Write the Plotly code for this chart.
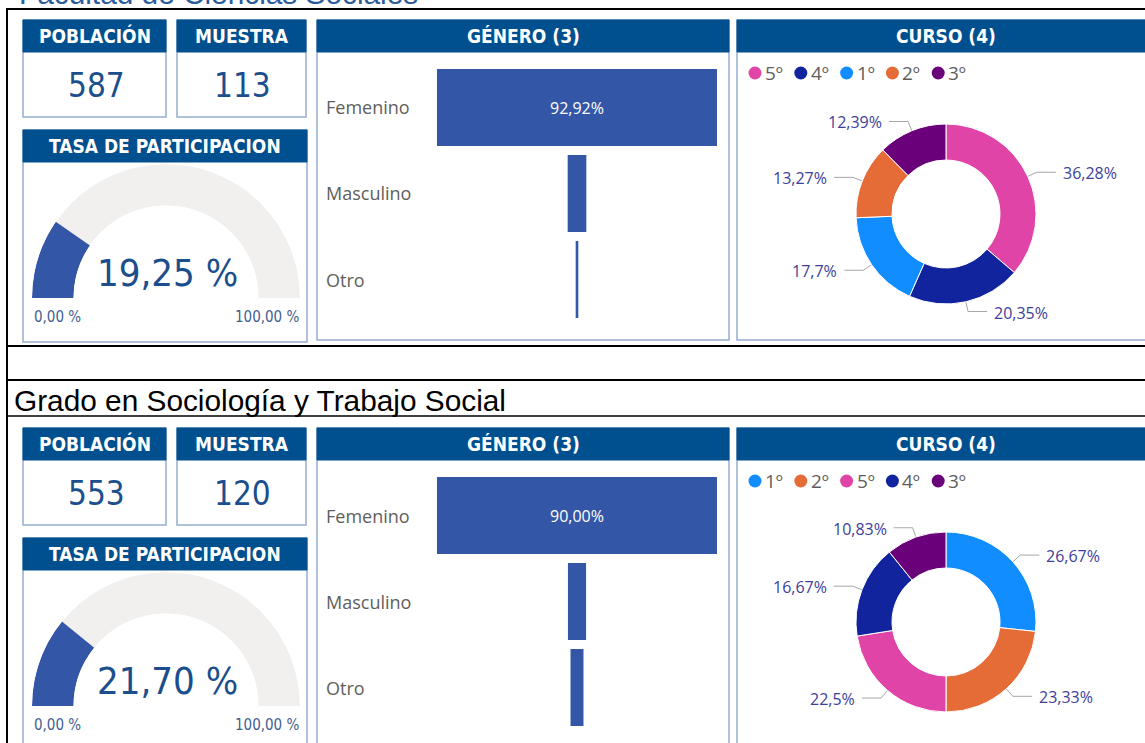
import math
import plotly.graph_objects as go

W, H = 1145, 743

# ---------------- data ----------------
section_titles = ["Facultad de Ciencias Sociales", "Grado en Sociología y Trabajo Social"]
poblacion = [587, 553]
muestra = [113, 120]
gauge_range = [0, 100]

genero_categorias = ["Femenino", "Masculino", "Otro"]
genero_facultad = [105, 7, 1]
genero_grado = [108, 7, 5]

curso_facultad_labels = ["5º", "4º", "1º", "2º", "3º"]
curso_facultad_values = [41, 23, 20, 15, 14]
curso_grado_labels = ["1º", "2º", "5º", "4º", "3º"]
curso_grado_values = [32, 28, 27, 20, 13]

card_titles = ["POBLACIÓN", "MUESTRA", "TASA DE PARTICIPACION", "GÉNERO (3)", "CURSO (4)"]

curso_colores = {"1º": "#118DFF", "2º": "#E66C37", "3º": "#6B007B",
                 "4º": "#12239E", "5º": "#E044A7"}

# ---------------- style ----------------
HEADER = "#00508F"
BORDER = "#97AFCF"
BAR_BLUE = "#3456A6"
GAUGE_BG = "#F1F0EF"
NUM_BLUE = "#1B4E8C"
GAUGE_TXT = "#1B4E8C"
GAUGE_SMALL = "#3F6190"
LABEL_GRAY = "#605E5C"
DONUT_LABEL = "#3E3E9B"
LEADER = "#A6A6A6"
HEAD_FONT = "'DejaVu Sans Condensed', 'Roboto Condensed', 'Liberation Sans Narrow', sans-serif"
UI_FONT = "'Segoe UI', 'Open Sans', 'Noto Sans', sans-serif"
TITLE_FONT = "Arial, 'Liberation Sans', sans-serif"
DY = 408


def fx(x):
    return x / W


def fy(y):
    return 1 - y / H


def es_num(v, dec=2, strip=False):
    s = f"{v:.{dec}f}"
    if strip and "." in s:
        s = s.rstrip("0").rstrip(".")
    return s.replace(".", ",")


fig = go.Figure()
shapes = []
annotations = []


def line(x0, y0, x1, y1, w):
    shapes.append(dict(type="line", xref="x", yref="y", x0=x0, y0=y0, x1=x1, y1=y1,
                       line=dict(color="black", width=w), layer="above"))


def card(x0, y0, x1, y1, title):
    shapes.append(dict(type="rect", xref="x", yref="y", x0=x0, y0=y0, x1=x1, y1=y1,
                       line=dict(color=BORDER, width=1.5), fillcolor="white", layer="below"))
    shapes.append(dict(type="rect", xref="x", yref="y", x0=x0, y0=y0, x1=x1, y1=y0 + 32,
                       line=dict(color=HEADER, width=1), fillcolor=HEADER, layer="below"))
    annotations.append(dict(xref="x", yref="y", x=(x0 + x1) / 2, y=y0 + 15.5, text=title,
                            showarrow=False, xanchor="center", yanchor="middle",
                            font=dict(family=HEAD_FONT, size=19, color="white", weight="bold")))


def text(x, y, t, size, color, family, xanchor="center", yanchor="middle"):
    annotations.append(dict(xref="x", yref="y", x=x, y=y, text=t, showarrow=False,
                            xanchor=xanchor, yanchor=yanchor,
                            font=dict(family=family, size=size, color=color)))


# table lines
line(6, 9, W, 9, 2)
line(7, 9, 7, H, 2)
line(7, 346, W, 346, 2)
line(7, 380, W, 380, 2)
line(7, 416, W, 416, 1.5)

# section titles
annotations.append(dict(xref="x", yref="y", x=17, y=12, text=section_titles[0], showarrow=False,
                        xanchor="left", yanchor="bottom",
                        font=dict(family=TITLE_FONT, size=29.8, color="#2D5C9E")))
annotations.append(dict(xref="x", yref="y", x=12, y=419, text=section_titles[1], showarrow=False,
                        xanchor="left", yanchor="bottom",
                        font=dict(family=TITLE_FONT, size=29.8, color="black")))

genero_sets = [genero_facultad, genero_grado]
curso_sets = [(curso_facultad_labels, curso_facultad_values), (curso_grado_labels, curso_grado_values)]

layout_axes = {}

for s in range(2):
    dy = DY * s
    # cards
    card(23, 20 + dy, 166, 117 + dy, card_titles[0])
    card(177, 20 + dy, 306, 117 + dy, card_titles[1])
    card(23, 130 + dy, 307, 342 + dy, card_titles[2])
    card(317, 20 + dy, 729, 340 + dy, card_titles[3])
    card(737, 20 + dy, 1155, 340 + dy, card_titles[4])

    text(96, 85 + dy, str(poblacion[s]), 33, NUM_BLUE, HEAD_FONT)
    text(242, 85 + dy, str(muestra[s]), 33, NUM_BLUE, HEAD_FONT)

    # ---- gauge (half donut on polar) ----
    rate = muestra[s] / poblacion[s] * 100
    span = gauge_range[1] - gauge_range[0]
    pkey = "polar" if s == 0 else "polar2"
    fig.add_trace(go.Barpolar(r=[1], theta=[90], width=[180], subplot=pkey,
                              marker=dict(color=GAUGE_BG, line=dict(width=0)),
                              hoverinfo="skip", showlegend=False))
    frac = (rate - gauge_range[0]) / span * 180
    fig.add_trace(go.Barpolar(r=[1], theta=[frac / 2], width=[frac], subplot=pkey,
                              marker=dict(color=BAR_BLUE, line=dict(width=0)),
                              hoverinfo="skip", showlegend=False))
    layout_axes[pkey] = dict(
        domain=dict(x=[fx(32), fx(300)], y=[fy(298 + dy), fy(164 + dy)]),
        sector=[0, 180], hole=0.69, bgcolor="rgba(0,0,0,0)",
        radialaxis=dict(visible=False, range=[0, 1]),
        angularaxis=dict(visible=False, rotation=180, direction="clockwise"))
    text(167, 273 + dy, es_num(rate) + " %", 38, GAUGE_TXT, HEAD_FONT)
    text(32, 317 + dy, es_num(gauge_range[0]) + " %", 15, GAUGE_SMALL, HEAD_FONT, xanchor="left")
    text(301, 317 + dy, es_num(gauge_range[1]) + " %", 15, GAUGE_SMALL, HEAD_FONT, xanchor="right")

    # ---- funnel ----
    vals = genero_sets[s]
    xa = "x%d" % (s + 2)
    ya = "y%d" % (s + 2)
    vmax = max(vals)
    fig.add_trace(go.Funnel(
        y=genero_categorias, x=vals, orientation="h", xaxis=xa, yaxis=ya,
        marker=dict(color=BAR_BLUE, line=dict(width=0)),
        connector=dict(visible=False),
        texttemplate="%{percentTotal:.2%}",
        textposition=["inside" if v / vmax > 0.3 else "none" for v in vals],
        insidetextanchor="middle",
        textfont=dict(family=UI_FONT, size=16, color="white"),
        constraintext="none", hoverinfo="skip", showlegend=False))
    layout_axes["xaxis%d" % (s + 2)] = dict(domain=[fx(437), fx(717)], range=[-vmax / 2, vmax / 2],
                                            visible=False, fixedrange=True, anchor=ya)
    n = len(genero_categorias)
    layout_axes["yaxis%d" % (s + 2)] = dict(domain=[fy(322.5 + dy), fy(64.5 + dy)], type="category",
                                            categoryorder="array", categoryarray=genero_categorias,
                                            range=[n - 0.5, -0.5], visible=False, fixedrange=True,
                                            anchor=xa)
    for i, c in enumerate(genero_categorias):
        annotations.append(dict(xref="paper", yref=ya, x=fx(324), y=i, text=c, showarrow=False,
                                xanchor="left", yanchor="middle",
                                font=dict(family=UI_FONT, size=18, color=LABEL_GRAY)))

    # ---- donut ----
    labels, values = curso_sets[s]
    cx, cy, R = 946, 214 + dy, 90
    fig.add_trace(go.Pie(
        labels=labels, values=values, sort=False, direction="clockwise", rotation=0,
        hole=0.6, textinfo="none", hoverinfo="skip", showlegend=False,
        marker=dict(colors=[curso_colores[l] for l in labels], line=dict(color="white", width=1)),
        domain=dict(x=[fx(cx - R), fx(cx + R)], y=[fy(cy + R), fy(cy - R)])))
    total = sum(values)
    cum = 0
    lx, ly = [], []
    for l, v in zip(labels, values):
        mid = (cum + v / 2) / total
        cum += v
        th = 2 * math.pi * mid
        sx, cth = math.sin(th), math.cos(th)
        p0 = (cx + R * sx, cy - R * cth)
        p1 = (cx + 1.111 * R * sx, cy - 1.111 * R * cth)
        sgn = 1 if sx >= 0 else -1
        p2 = (p1[0] + sgn * 19, p1[1])
        lx += [p0[0], p1[0], p2[0], None]
        ly += [p0[1], p1[1], p2[1], None]
        text(p2[0] + sgn * 5, p1[1] + 1, es_num(v / total * 100, 2, strip=True) + "%", 16,
             DONUT_LABEL, UI_FONT, xanchor="left" if sgn > 0 else "right")
    fig.add_trace(go.Scatter(x=lx, y=ly, mode="lines", line=dict(color=LEADER, width=1),
                             hoverinfo="skip", showlegend=False, xaxis="x", yaxis="y"))
    # legend
    mx = [755 + i * 45.8 for i in range(len(labels))]
    fig.add_trace(go.Scatter(x=mx, y=[73 + dy] * len(labels), mode="markers",
                             marker=dict(size=13, color=[curso_colores[l] for l in labels]),
                             hoverinfo="skip", showlegend=False, xaxis="x", yaxis="y"))
    for xm, l in zip(mx, labels):
        text(xm + 8, 73 + dy, l, 19, LABEL_GRAY, UI_FONT, xanchor="left")

fig.update_layout(
    width=W, height=H, margin=dict(l=0, r=0, t=0, b=0),
    paper_bgcolor="white", plot_bgcolor="rgba(0,0,0,0)",
    showlegend=False, separators=",.", funnelgap=1 - 77 / 86,
    xaxis=dict(range=[0, W], domain=[0, 1], visible=False, fixedrange=True),
    yaxis=dict(range=[H, 0], domain=[0, 1], visible=False, fixedrange=True),
    shapes=shapes, annotations=annotations,
    **layout_axes)

fig.write_html("out.html", config={"displayModeBar": False},
               post_script="document.body.style.margin='0';")
